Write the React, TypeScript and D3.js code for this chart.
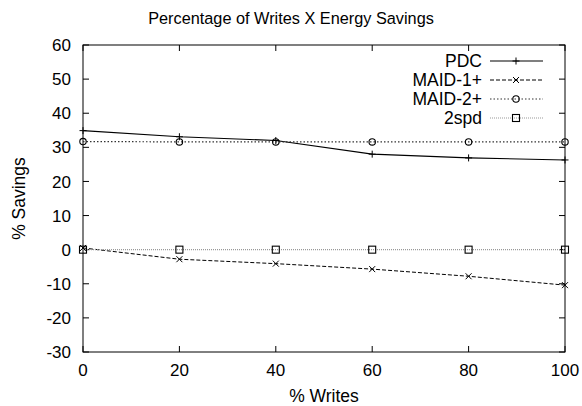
import { useEffect, useRef } from "react";
import * as d3 from "d3";

const writes = [0, 20, 40, 60, 80, 100];
const pdc = [34.9, 33.1, 32.0, 28.0, 26.9, 26.3];
const maid1 = [0.5, -2.8, -4.1, -5.7, -7.8, -10.4];
const maid2 = [31.7, 31.6, 31.6, 31.6, 31.6, 31.6];
const spd2 = [0, 0, 0, 0, 0, 0];
const yTicks = [-30, -20, -10, 0, 10, 20, 30, 40, 50, 60];
const xTicks = [0, 20, 40, 60, 80, 100];

const series = [
  { name: "PDC", values: pdc, color: "#000", dash: null, width: 1.1, marker: "plus" },
  { name: "MAID-1+", values: maid1, color: "#000", dash: "4,2", width: 1, marker: "cross" },
  { name: "MAID-2+", values: maid2, color: "#333", dash: "1.5,2", width: 1.2, marker: "circle" },
  { name: "2spd", values: spd2, color: "#999", dash: "1,1", width: 1.2, marker: "square" },
];

function drawMarker(g, kind, x, y) {
  const s = 3.5;
  if (kind === "plus") {
    g.append("path").attr("d", `M${x - s},${y}H${x + s}M${x},${y - s}V${y + s}`)
      .attr("stroke", "#000").attr("stroke-width", 1);
  } else if (kind === "cross") {
    g.append("path").attr("d", `M${x - 3},${y - 3}L${x + 3},${y + 3}M${x - 3},${y + 3}L${x + 3},${y - 3}`)
      .attr("stroke", "#000").attr("stroke-width", 1);
  } else if (kind === "circle") {
    g.append("circle").attr("cx", x).attr("cy", y).attr("r", 3.2)
      .attr("fill", "none").attr("stroke", "#000").attr("stroke-width", 1.1);
  } else {
    g.append("rect").attr("x", x - 3.5).attr("y", y - 3.5).attr("width", 7).attr("height", 7)
      .attr("fill", "none").attr("stroke", "#000").attr("stroke-width", 1.1);
  }
}

function App() {
  const ref = useRef(null);

  useEffect(() => {
    const width = 582;
    const height = 406;
    const margin = { top: 45, right: 17, bottom: 54, left: 83 };

    d3.select(ref.current).selectAll("*").remove();

    const svg = d3
      .select(ref.current)
      .append("svg")
      .attr("width", width)
      .attr("height", height)
      .style("display", "block")
      .style("font-family", "'Liberation Sans', Arial, sans-serif");

    const x = d3.scaleLinear().domain([0, 100]).range([margin.left, width - margin.right]);
    const y = d3.scaleLinear().domain([-30, 60]).range([height - margin.bottom, margin.top]);

    const axisG = svg.append("g").attr("stroke", "#000").attr("stroke-width", 1);
    const tick = 6;

    yTicks.forEach((t) => {
      axisG.append("line").attr("x1", x(0)).attr("x2", x(0) + tick).attr("y1", y(t)).attr("y2", y(t));
      axisG.append("line").attr("x1", x(100)).attr("x2", x(100) - tick).attr("y1", y(t)).attr("y2", y(t));
      svg.append("text").attr("x", x(0) - 12).attr("y", y(t)).attr("dy", "0.36em")
        .attr("text-anchor", "end").attr("font-size", 17).text(t);
    });
    xTicks.forEach((t) => {
      axisG.append("line").attr("x1", x(t)).attr("x2", x(t)).attr("y1", y(-30)).attr("y2", y(-30) - tick);
      axisG.append("line").attr("x1", x(t)).attr("x2", x(t)).attr("y1", y(60)).attr("y2", y(60) + tick);
      svg.append("text").attr("x", x(t)).attr("y", y(-30) + 24)
        .attr("text-anchor", "middle").attr("font-size", 17).text(t);
    });

    svg.append("rect")
      .attr("x", x(0)).attr("y", y(60))
      .attr("width", x(100) - x(0)).attr("height", y(-30) - y(60))
      .attr("fill", "none").attr("stroke", "#000").attr("stroke-width", 1);

    const line = d3.line().x((d, i) => x(writes[i])).y((d) => y(d));

    series.forEach((s) => {
      const path = svg.append("path").datum(s.values)
        .attr("fill", "none").attr("stroke", s.color).attr("stroke-width", s.width)
        .attr("d", line);
      if (s.dash) path.attr("stroke-dasharray", s.dash);
      const mg = svg.append("g");
      s.values.forEach((v, i) => drawMarker(mg, s.marker, x(writes[i]), y(v)));
    });

    // legend
    const lg = svg.append("g");
    series.forEach((s, i) => {
      const ly = 61 + i * 19;
      lg.append("text").attr("x", 482).attr("y", ly).attr("dy", "0.36em")
        .attr("text-anchor", "end").attr("font-size", 17.5).text(s.name);
      const l = lg.append("line").attr("x1", 490).attr("x2", 543).attr("y1", ly).attr("y2", ly)
        .attr("stroke", s.color).attr("stroke-width", s.width);
      if (s.dash) l.attr("stroke-dasharray", s.dash);
      drawMarker(lg, s.marker, 516, ly);
    });

    svg.append("text").attr("x", 291).attr("y", 24).attr("text-anchor", "middle")
      .attr("font-size", 16.3).text("Percentage of Writes X Energy Savings");
    svg.append("text").attr("x", x(50)).attr("y", 402).attr("text-anchor", "middle")
      .attr("font-size", 17.5).text("% Writes");
    svg.append("text")
      .attr("transform", `translate(25,${y(15)}) rotate(-90)`)
      .attr("text-anchor", "middle").attr("font-size", 17.5).text("% Savings");
  }, []);

  return <div ref={ref} style={{ position: "absolute", left: 0, top: 0 }}></div>;
}

export default App;
